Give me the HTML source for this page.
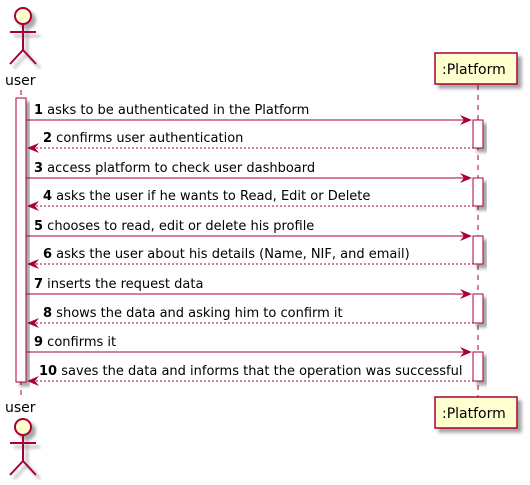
<!DOCTYPE html>
<html><head><meta charset="utf-8"><style>
html,body{margin:0;padding:0;background:#fff;}
svg text{font-family:"DejaVu Sans","Liberation Sans",sans-serif;font-size:13px;fill:#000;}
</style></head><body>
<svg width="530" height="480" viewBox="0 0 530 480" xmlns="http://www.w3.org/2000/svg">
<defs>
<filter id="sh" x="-20%" y="-20%" width="160%" height="160%"><feGaussianBlur in="SourceAlpha" stdDeviation="1.5"/><feOffset dx="4" dy="4"/><feComponentTransfer><feFuncA type="linear" slope="0.35"/></feComponentTransfer><feMerge><feMergeNode/><feMergeNode in="SourceGraphic"/></feMerge></filter>
</defs>
<!-- lifelines -->
<line x1="21" y1="90" x2="21" y2="398" stroke="#A80036" stroke-dasharray="5,5"/>
<line x1="478" y1="85" x2="478" y2="398" stroke="#A80036" stroke-dasharray="5,5"/>
<!-- user activation -->
<rect x="16" y="98" width="10" height="284" fill="#fff" stroke="#A80036" filter="url(#sh)"/>
<!-- platform activations -->
<g fill="#fff" stroke="#A80036" filter="url(#sh)">
<rect x="473" y="120" width="10" height="28"/>
<rect x="473" y="178" width="10" height="28"/>
<rect x="473" y="236" width="10" height="28"/>
<rect x="473" y="294" width="10" height="29"/>
<rect x="473" y="352" width="10" height="29"/>
</g>
<!-- actors -->
<g fill="#FEFECE" stroke="#A80036" stroke-width="2" filter="url(#sh)">
<circle cx="23" cy="16" r="8"/>
<path d="M23 24 V50 M10 32 H36 M23 50 L10 64 M23 50 L36 64" fill="none"/>
</g>
<text x="5" y="85" style="font-size:14px">user</text>
<text x="5" y="412" style="font-size:14px">user</text>
<g fill="#FEFECE" stroke="#A80036" stroke-width="2" filter="url(#sh)">
<circle cx="23" cy="427" r="8"/>
<path d="M23 435 V461 M10 443 H36 M23 461 L10 475 M23 461 L36 475" fill="none"/>
</g>
<!-- participant boxes -->
<rect x="435" y="53" width="82" height="31" fill="#FEFECE" stroke="#A80036" stroke-width="1.5" filter="url(#sh)"/>
<text x="442" y="74" style="font-size:14px">:Platform</text>
<rect x="435" y="397" width="82" height="31" fill="#FEFECE" stroke="#A80036" stroke-width="1.5" filter="url(#sh)"/>
<text x="442" y="418" style="font-size:14px">:Platform</text>
<!-- messages -->
<g stroke="#A80036" fill="none">
<line x1="26" y1="120" x2="471" y2="120"/>
<line x1="28" y1="148" x2="473" y2="148" stroke-dasharray="2,2"/>
<line x1="26" y1="178" x2="471" y2="178"/>
<line x1="28" y1="206" x2="473" y2="206" stroke-dasharray="2,2"/>
<line x1="26" y1="236" x2="471" y2="236"/>
<line x1="28" y1="264" x2="473" y2="264" stroke-dasharray="2,2"/>
<line x1="26" y1="294" x2="471" y2="294"/>
<line x1="28" y1="323" x2="473" y2="323" stroke-dasharray="2,2"/>
<line x1="26" y1="352" x2="471" y2="352"/>
<line x1="28" y1="381" x2="473" y2="381" stroke-dasharray="2,2"/>
</g>
<g fill="#A80036">
<path d="M472 120 L460 115 L464 120 L460 125Z"/>
<path d="M472 178 L460 173 L464 178 L460 183Z"/>
<path d="M472 236 L460 231 L464 236 L460 241Z"/>
<path d="M472 294 L460 289 L464 294 L460 299Z"/>
<path d="M472 352 L460 347 L464 352 L460 357Z"/>
<path d="M27 148 L39 143 L35 148 L39 153Z"/>
<path d="M27 206 L39 201 L35 206 L39 211Z"/>
<path d="M27 264 L39 259 L35 264 L39 269Z"/>
<path d="M27 323 L39 318 L35 323 L39 328Z"/>
<path d="M27 381 L39 376 L35 381 L39 386Z"/>
</g>
<text x="34" y="114"><tspan font-weight="bold">1</tspan> asks to be authenticated in the Platform</text>
<text x="43" y="142"><tspan font-weight="bold">2</tspan> confirms user authentication</text>
<text x="34" y="172"><tspan font-weight="bold">3</tspan> access platform to check user dashboard</text>
<text x="43" y="200"><tspan font-weight="bold">4</tspan> asks the user if he wants to Read, Edit or Delete</text>
<text x="34" y="230"><tspan font-weight="bold">5</tspan> chooses to read, edit or delete his profile</text>
<text x="43" y="258"><tspan font-weight="bold">6</tspan> asks the user about his details (Name, NIF, and email)</text>
<text x="34" y="288"><tspan font-weight="bold">7</tspan> inserts the request data</text>
<text x="43" y="317"><tspan font-weight="bold">8</tspan> shows the data and asking him to confirm it</text>
<text x="34" y="346"><tspan font-weight="bold">9</tspan> confirms it</text>
<text x="39" y="375"><tspan font-weight="bold">10</tspan> saves the data and informs that the operation was successful</text>
</svg>
</body></html>
